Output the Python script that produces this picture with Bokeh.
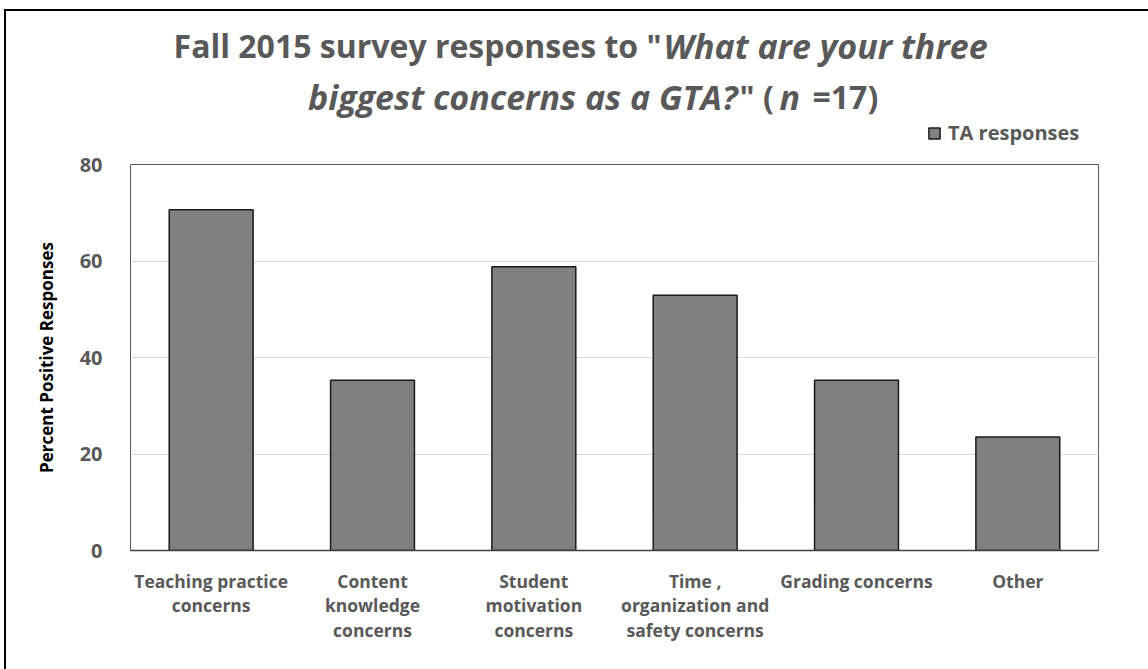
from bokeh.plotting import figure
from bokeh.layouts import column
from bokeh.models import (ColumnDataSource, FactorRange, Range1d, Label, Legend,
                          LegendItem, FixedTicker)
from bokeh.embed import file_html
from bokeh.resources import INLINE

categories = ["Teaching practice\nconcerns", "Content\nknowledge\nconcerns",
              "Student\nmotivation\nconcerns", "Time ,\norganization and\nsafety concerns",
              "Grading concerns", "Other"]
ta_responses = [70.6, 35.3, 58.8, 52.9, 35.3, 23.5]
y_ticks = [0, 20, 40, 60, 80]
series_name = "TA responses"
y_label = "Percent Positive Responses"

FONT = "Open Sans"
GRAY = "#595959"
BAR_FILL = "#808080"
BAR_LINE = "#1a1a1a"

# page geometry (pixels of the 1148x669 page)
OX, OY = 6, 11               # canvas origin inside the outer frame
FRAME_L, FRAME_R = 130, 1098
HEAD_BOTTOM = 150

# ---- header figure: title (mixed regular / italic segments) and legend ----
TH = HEAD_BOTTOM - OY
tf = figure(width=1148 - OX, height=TH,
            x_range=Range1d(FRAME_L, FRAME_R), y_range=Range1d(HEAD_BOTTOM, OY),
            output_backend="svg", toolbar_location=None,
            min_border_left=FRAME_L - OX, min_border_right=1148 - FRAME_R,
            min_border_top=0, min_border_bottom=0)
tf.axis.visible = False
tf.grid.visible = False
tf.outline_line_color = None

L1, L2 = 45, 96
segs = [
    ('Fall 2015 survey responses to "', 661, L1, "right", "bold", "32px"),
    ("What are your three", 663, L1, "left", "bold italic", "34px"),
    ("biggest concerns as a GTA?", 737, L2, "right", "bold italic", "34px"),
    ('" (', 739, L2, "left", "bold", "32px"),
    ("n", 779, L2, "left", "bold italic", "34px"),
    ("=17)", 812, L2, "left", "bold", "32px"),
]
for t, x, y, al, st, fs in segs:
    tf.add_layout(Label(x=x, y=y, text=t, text_align=al, text_baseline="alphabetic",
                        text_font=FONT, text_font_style=st, text_font_size=fs,
                        text_color=GRAY))

# legend key renderer (holds no visible data; only supplies the legend swatch style)
key_src = ColumnDataSource(dict(v=[float("nan")]))
legend_key = tf.quad(left="v", right="v", top="v", bottom="v", source=key_src,
                     fill_color=BAR_FILL, line_color=BAR_LINE, line_width=1.5)
legend = Legend(items=[LegendItem(label=series_name, renderers=[legend_key])],
                location=(927 - FRAME_L, 4), orientation="horizontal",
                background_fill_alpha=0, border_line_color=None,
                label_text_font=FONT, label_text_font_style="bold",
                label_text_font_size="20px", label_text_color=GRAY,
                glyph_width=14, glyph_height=14, label_standoff=7,
                padding=0, margin=0)
tf.add_layout(legend)

# ---- main bar chart ----
p = figure(x_range=FactorRange(*categories, range_padding=0), y_range=Range1d(0, 80),
           width=1148 - OX, height=669 - HEAD_BOTTOM, output_backend="svg",
           toolbar_location=None,
           min_border_left=FRAME_L - OX, min_border_right=1148 - FRAME_R,
           min_border_top=164 - HEAD_BOTTOM, min_border_bottom=669 - 550)

src = ColumnDataSource(dict(cat=categories, val=ta_responses))
p.vbar(x="cat", top="val", width=0.52, source=src, fill_color=BAR_FILL,
       line_color=BAR_LINE, line_width=1.5)

p.outline_line_color = GRAY
p.outline_line_width = 1
p.xgrid.grid_line_color = None
p.ygrid.grid_line_color = "#d9d9d9"
p.ygrid.ticker = FixedTicker(ticks=y_ticks)

p.yaxis.ticker = FixedTicker(ticks=y_ticks)
p.yaxis.axis_line_color = None
p.yaxis.major_tick_line_color = None
p.yaxis.minor_tick_line_color = None
p.yaxis.major_label_text_font = FONT
p.yaxis.major_label_text_font_style = "bold"
p.yaxis.major_label_text_font_size = "20px"
p.yaxis.major_label_text_color = GRAY
p.yaxis.major_label_standoff = 22
p.yaxis.axis_label = y_label
p.yaxis.axis_label_text_font = FONT
p.yaxis.axis_label_text_font_style = "bold"
p.yaxis.axis_label_text_font_size = "17px"
p.yaxis.axis_label_text_color = "black"
p.yaxis.axis_label_standoff = 19

p.xaxis.axis_line_color = "#404040"
p.xaxis.axis_line_width = 1.5
p.xaxis.major_tick_line_color = None
p.xaxis.minor_tick_line_color = None
p.xaxis.major_label_text_font = FONT
p.xaxis.major_label_text_font_style = "bold"
p.xaxis.major_label_text_font_size = "17.5px"
p.xaxis.major_label_text_color = GRAY
p.xaxis.major_label_standoff = 12
p.xaxis.major_label_text_line_height = 1.03

layout = column(tf, p, spacing=0)
layout.styles = {"margin-left": "4px", "margin-top": "9px",
                 "border-left": "2px solid black", "border-top": "2px solid black"}

open("out.html", "w").write(file_html(layout, INLINE))
